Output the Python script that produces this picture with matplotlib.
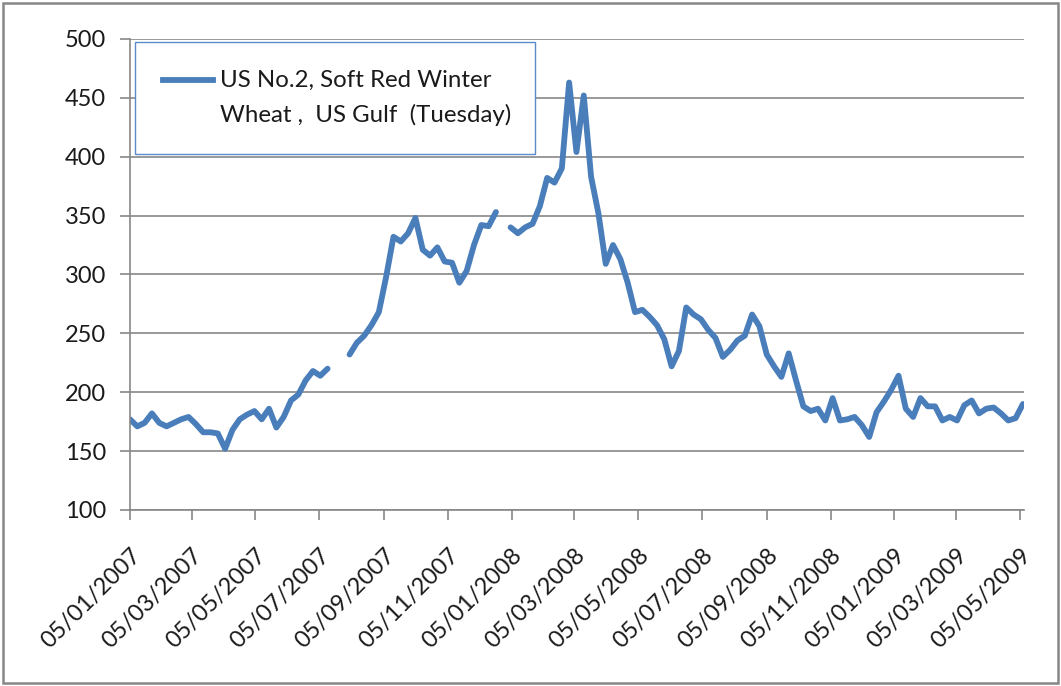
import numpy as np
import pandas as pd
import matplotlib
matplotlib.use("Agg")
import matplotlib.pyplot as plt
import matplotlib.dates as mdates
from matplotlib.patches import Rectangle
from matplotlib.lines import Line2D

plt.rcParams['font.family'] = ['Lato', 'DejaVu Sans']

# weekly prices, USD/t (None = no quote)
start_date = "2007-01-05"
prices = [
    177, 171, 174, 182, 174, 171, 174, 177, 179, 173,
    166, 166, 165, 152, 168, 177, 181, 184, 177, 186,
    170, 179, 193, 198, 210, 218, 214, 220, None, None,
    232, 242, 248, 257, 268, 298, 332, 328, 335, 348,
    321, 316, 323, 311, 310, 293, 303, 325, 342, 341,
    353, None, 340, 335, 340, 343, 358, 382, 378, 390,
    463, 404, 452, 383, 352, 309, 325, 313, 293, 268,
    270, 264, 257, 245, 222, 235, 272, 266, 262, 253,
    246, 230, 236, 244, 248, 266, 256, 232, 222, 213,
    233, 210, 188, 184, 186, 176, 195, 176, 177, 179,
    172, 162, 183, 192, 202, 214, 186, 179, 195, 188,
    188, 176, 179, 176, 189, 193, 182, 186, 187, 182,
    176, 178, 190,
]
series_label = ["US No.2, Soft Red Winter", "Wheat ,  US Gulf  (Tuesday)"]
y_ticks = [100, 150, 200, 250, 300, 350, 400, 450, 500]

dates = pd.date_range(start_date, periods=len(prices), freq="7D")
values = np.array([np.nan if p is None else p for p in prices], dtype=float)

blue = "#4A7EBB"
grey = "#878787"

fig = plt.figure(figsize=(10.61, 6.86), dpi=100)
fig.patches.append(Rectangle((0.003, 0.005), 0.994, 0.99, transform=fig.transFigure,
                             fill=False, edgecolor=grey, linewidth=1.8))

ax = fig.add_axes([0.1225, 0.2566, 0.8426, 0.6866])
ax.plot(dates, values, color=blue, linewidth=4.2, solid_joinstyle="round",
        solid_capstyle="round")

ax.set_ylim(100, 500)
ax.set_yticks(y_ticks)
ax.set_xlim(dates[0], dates[-1] + pd.Timedelta(days=1))
ax.xaxis.set_major_locator(mdates.MonthLocator(bymonth=(1, 3, 5, 7, 9, 11), bymonthday=5))
ax.xaxis.set_major_formatter(mdates.DateFormatter("%d/%m/%Y"))

ax.grid(axis="y", color=grey, linewidth=1.2)
ax.set_axisbelow(True)
for side in ("top", "right"):
    ax.spines[side].set_visible(False)
for side in ("left", "bottom"):
    ax.spines[side].set_color(grey)
    ax.spines[side].set_linewidth(1.2)

ax.tick_params(axis="both", colors=grey, length=7, width=1.2, labelcolor="#1a1a1a",
               labelsize=17)
ax.tick_params(axis="y", pad=10)
ax.tick_params(axis="x", pad=18)
for lbl in ax.get_xticklabels():
    lbl.set_rotation(45)
    lbl.set_ha("right")
    lbl.set_rotation_mode("anchor")

# legend box drawn by hand, like the Excel one
ax.add_patch(Rectangle((0.0056, 0.756), 0.4474, 0.237, transform=ax.transAxes,
                       fill=True, facecolor="white", edgecolor="#5B8BC9",
                       linewidth=1.0, zorder=5))
ax.add_line(Line2D([0.037, 0.093], [0.913, 0.913], transform=ax.transAxes,
                   color=blue, linewidth=4.2, zorder=6))
ax.text(0.1007, 0.913, series_label[0], transform=ax.transAxes, fontsize=17.3,
        va="center", ha="left", color="#1a1a1a", zorder=6)
ax.text(0.1007, 0.838, series_label[1], transform=ax.transAxes, fontsize=17.3,
        va="center", ha="left", color="#1a1a1a", zorder=6)

fig.savefig("out.png", dpi=100)
